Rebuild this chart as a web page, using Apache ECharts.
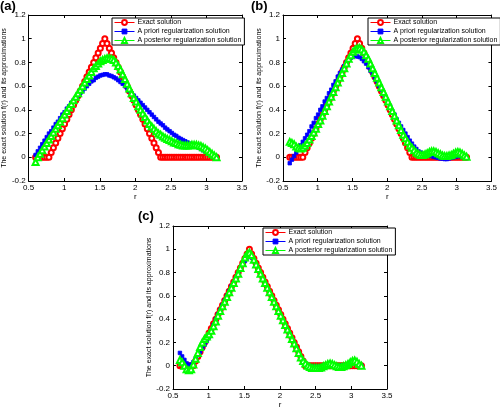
<!DOCTYPE html>
<html><head><meta charset="utf-8">
<script src="https://cdn.jsdelivr.net/npm/echarts@6/dist/echarts.min.js"></script>
<style>html,body{margin:0;padding:0;background:#fff}#c{width:500px;height:410px}</style>
</head><body><div id="c"></div>
<script>
const R = [0.597,0.628,0.660,0.691,0.723,0.754,0.785,0.817,0.848,0.880,0.911,0.942,0.974,1.005,1.037,1.068,1.100,1.131,1.162,1.194,1.225,1.257,1.288,1.319,1.351,1.382,1.414,1.445,1.477,1.508,1.539,1.571,1.602,1.634,1.665,1.696,1.728,1.759,1.791,1.822,1.854,1.885,1.916,1.948,1.979,2.011,2.042,2.073,2.105,2.136,2.168,2.199,2.231,2.262,2.293,2.325,2.356,2.388,2.419,2.450,2.482,2.513,2.545,2.576,2.608,2.639,2.670,2.702,2.733,2.765,2.796,2.827,2.859,2.890,2.922,2.953,2.985,3.016,3.047,3.079,3.110,3.142];

const exact = [0,0,0,0,0,0,0,
 0.04,0.08,0.12,0.16,0.2,0.24,0.28,0.32,0.36,0.4,0.44,0.48,0.52,0.56,0.6,0.64,0.68,0.72,0.76,0.8,0.84,0.88,0.92,0.96,1,
 0.96,0.92,0.88,0.84,0.8,0.76,0.72,0.68,0.64,0.6,0.56,0.52,0.48,0.44,0.4,0.36,0.32,0.28,0.24,0.2,0.16,0.12,0.08,0.04,0,
 0,0,0,0,0,0,0,0,0,0,0,0,0,0,0,0,0,0,0,0,0,0,0,0,0];

const prioriA = [0.02,0.05,0.08,0.11,0.14,0.17,0.20,0.22,0.25,0.28,0.30,0.33,0.36,0.38,0.41,0.43,0.46,0.48,0.50,0.52,0.54,0.56,0.58,0.60,0.62,0.64,0.65,0.67,0.68,0.69,0.695,0.70,0.70,0.69,0.685,0.675,0.665,0.65,0.635,0.62,0.60,0.58,0.56,0.54,0.52,0.50,0.48,0.46,0.44,0.42,0.40,0.38,0.36,0.34,0.32,0.30,0.285,0.27,0.25,0.235,0.22,0.205,0.19,0.18,0.165,0.155,0.145,0.135,0.125,0.115,0.11,0.10,0.09,0.08,0.07,0.06,0.05,0.04,0.03,0.02,0.01,0.0];
const posteriorA = [-0.04,0.0,0.03,0.06,0.09,0.12,0.15,0.18,0.21,0.24,0.27,0.30,0.33,0.36,0.39,0.42,0.45,0.48,0.51,0.54,0.57,0.60,0.63,0.66,0.69,0.72,0.75,0.77,0.79,0.81,0.82,0.83,0.835,0.835,0.83,0.82,0.80,0.77,0.74,0.70,0.66,0.62,0.58,0.54,0.50,0.47,0.43,0.40,0.37,0.34,0.31,0.28,0.26,0.24,0.22,0.20,0.19,0.175,0.165,0.155,0.145,0.135,0.125,0.12,0.11,0.105,0.10,0.10,0.10,0.10,0.105,0.105,0.105,0.10,0.095,0.085,0.075,0.06,0.045,0.03,0.015,0.0];

const prioriB = [-0.05,-0.02,0.01,0.04,0.07,0.10,0.13,0.16,0.19,0.22,0.26,0.29,0.33,0.36,0.40,0.43,0.47,0.50,0.54,0.57,0.61,0.64,0.68,0.71,0.74,0.77,0.80,0.82,0.84,0.85,0.855,0.85,0.845,0.83,0.81,0.79,0.76,0.73,0.70,0.67,0.64,0.60,0.57,0.53,0.50,0.46,0.43,0.39,0.36,0.32,0.29,0.26,0.23,0.20,0.17,0.14,0.115,0.09,0.07,0.05,0.04,0.03,0.025,0.02,0.015,0.01,0.005,0.0,-0.005,-0.01,-0.01,-0.015,-0.015,-0.01,-0.005,0.0,0.005,0.01,0.01,0.005,0.0,-0.005];
const posteriorB = [0.13,0.12,0.11,0.09,0.08,0.075,0.08,0.10,0.12,0.15,0.18,0.21,0.24,0.28,0.31,0.35,0.39,0.43,0.47,0.51,0.55,0.59,0.63,0.67,0.71,0.75,0.79,0.83,0.86,0.89,0.91,0.92,0.92,0.91,0.89,0.86,0.83,0.79,0.75,0.71,0.67,0.63,0.59,0.55,0.51,0.47,0.43,0.39,0.35,0.31,0.27,0.23,0.19,0.16,0.13,0.10,0.08,0.06,0.04,0.03,0.02,0.02,0.025,0.035,0.045,0.05,0.05,0.045,0.035,0.025,0.015,0.01,0.01,0.015,0.02,0.03,0.04,0.045,0.04,0.03,0.015,0.005];

const prioriC = [0.11,0.08,0.05,0.02,0.005,0.01,0.03,0.06,0.09,0.12,0.15,0.18,0.21,0.25,0.30,0.35,0.40,0.44,0.48,0.52,0.56,0.60,0.64,0.68,0.71,0.75,0.79,0.83,0.87,0.90,0.93,0.94,0.93,0.90,0.86,0.82,0.78,0.74,0.70,0.66,0.62,0.58,0.54,0.50,0.46,0.42,0.38,0.34,0.30,0.27,0.23,0.19,0.15,0.11,0.07,0.04,0.02,0.005,-0.005,-0.01,-0.01,-0.01,-0.01,-0.005,0.0,0.0,0.005,0.005,0.005,0.0,0.0,0.0,0.0,0.0,0.005,0.01,0.015,0.02,0.025,0.02,0.01,0.0];
const posteriorC = [0.05,0.03,0.0,-0.03,-0.04,-0.03,0.01,0.06,0.11,0.16,0.20,0.23,0.25,0.27,0.30,0.34,0.38,0.43,0.47,0.51,0.55,0.59,0.63,0.67,0.71,0.75,0.79,0.84,0.88,0.93,0.96,0.97,0.95,0.91,0.87,0.83,0.79,0.75,0.71,0.67,0.63,0.59,0.55,0.51,0.47,0.43,0.39,0.35,0.31,0.27,0.23,0.19,0.15,0.11,0.07,0.04,0.02,0.0,-0.01,-0.02,-0.02,-0.02,-0.02,-0.015,-0.005,0.005,0.015,0.02,0.015,0.005,-0.005,-0.01,-0.01,-0.005,0.005,0.015,0.03,0.04,0.045,0.035,0.015,0.0];

const names = ['Exact solution','A priori regularization solution','A posterior regularization solution'];
const panels = [
  {label:'(a)', lx:0, ly:0, grid:{left:27, top:15, width:215, height:166}, legend:{left:112, top:18}, data:[exact, prioriA, posteriorA]},
  {label:'(b)', lx:251, ly:0, grid:{left:283, top:15, width:212, height:166}, legend:{left:368, top:18}, data:[exact, prioriB, posteriorB]},
  {label:'(c)', lx:138, ly:210, grid:{left:173, top:226, width:214, height:167}, legend:{left:263, top:228}, data:[exact, prioriC, posteriorC]}
];

const yName = 'The exact solution f(r) and its approximations';
const font = 'Arial, "Liberation Sans", sans-serif';
const grids=[], xAxes=[], yAxes=[], series=[], legends=[], graphics=[];
const styles = [
  {color:'#ff0000', symbol:'emptyCircle', symbolSize:5},
  {color:'#0000ff', symbol:'rect', symbolSize:3.5},
  {color:'#00ff00', symbol:'emptyTriangle', symbolSize:6}
];
panels.forEach((p, k) => {
  grids.push(Object.assign({show:false}, p.grid));
  const common = {type:'value', min:0.5, max:3.5, interval:0.5, gridIndex:k,
    axisLine:{show:true, onZero:false, lineStyle:{color:'#000', width:1}},
    axisTick:{show:true, inside:true, length:3, lineStyle:{color:'#000'}},
    splitLine:{show:false}};
  xAxes.push(Object.assign({}, common, {position:'bottom', name:'r', nameLocation:'middle', nameGap:12,
    nameTextStyle:{fontSize:8, fontFamily:font, color:'#000'},
    axisLabel:{fontSize:8, fontFamily:font, color:'#000', margin:3, formatter:v=>String(+v.toFixed(1))}}));
  xAxes.push(Object.assign({}, common, {position:'top', axisLabel:{show:false}}));
  const ycommon = {type:'value', min:-0.2, max:1.2, interval:0.2, gridIndex:k,
    axisLine:{show:true, onZero:false, lineStyle:{color:'#000', width:1}},
    axisTick:{show:true, inside:true, length:3, lineStyle:{color:'#000'}},
    splitLine:{show:false}};
  yAxes.push(Object.assign({}, ycommon, {position:'left', name:yName, nameLocation:'middle', nameGap:17,
    nameTextStyle:{fontSize:7, fontFamily:font, color:'#000'},
    axisLabel:{fontSize:8, fontFamily:font, color:'#000', margin:3, formatter:v=>String(+v.toFixed(1))}}));
  yAxes.push(Object.assign({}, ycommon, {position:'right', axisLabel:{show:false}}));
  p.data.forEach((vals, j) => {
    const s = styles[j];
    series.push({type:'line', name:names[j], xAxisIndex:2*k, yAxisIndex:2*k,
      data:R.map((r,i)=>[r, vals[i]]),
      symbol:s.symbol, symbolSize:s.symbolSize, showAllSymbol:true,
      lineStyle:{color:s.color, width:0.8}, itemStyle:{color:s.color, borderColor:s.color, borderWidth:0.8},
      z:2+j});
  });
  legends.push({data:names, orient:'vertical', left:p.legend.left, top:p.legend.top,
    itemWidth:20, itemHeight:6, itemGap:2, padding:[1,3,1,2], selectedMode:false,
    backgroundColor:'#fff', borderColor:'#000', borderWidth:1, borderRadius:0,
    lineStyle:{width:1}, itemStyle:{borderWidth:1},
    textStyle:{fontSize:7, fontFamily:font, color:'#000', padding:[0,0,0,-2]}});
  graphics.push({type:'text', left:p.lx, top:p.ly, style:{text:p.label, font:'bold 13px Arial, "Liberation Sans", sans-serif', fill:'#000'}});
});

const chart = echarts.init(document.getElementById('c'), null, {renderer:'canvas'});
chart.setOption({animation:false, backgroundColor:'#fff', grid:grids, xAxis:xAxes, yAxis:yAxes,
  series:series, legend:legends, graphic:graphics});
</script></body></html>
